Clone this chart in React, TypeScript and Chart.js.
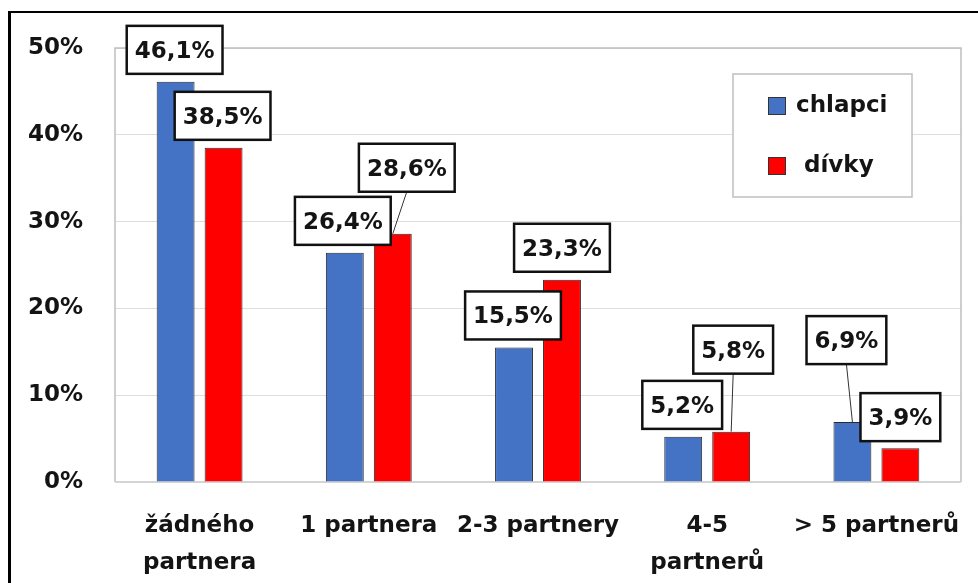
import React, { useEffect, useRef } from 'react';
import { Chart, registerables } from 'chart.js';

Chart.register(...registerables);

// ---- data ----
const categories: (string | string[])[] = [['žádného', 'partnera'], '1 partnera', '2-3 partnery', ['4-5', 'partnerů'], '> 5 partnerů'];
const seriesNames = ['chlapci', 'dívky'];
const chlapci = [46.1, 26.4, 15.5, 5.2, 6.9];
const divky = [38.5, 28.6, 23.3, 5.8, 3.9];
const yMin = 0;
const yMax = 50;
const yStep = 10;

// ---- styles ----
const COLORS = ['#4472C4', '#FF0000'];
const FONT_FAMILY = '"DejaVu Sans", "Noto Sans", sans-serif';
const FONT_SIZE = 23;
const TEXT_COLOR = '#141414';
// label box offsets (dx, dy of the box centre from the bar top) per series
const LABEL_OFFSETS: number[][][] = [
  [[-1, -32], [-2, -32], [-1, -32], [-1, -32], [-6, -82]],
  [[-1, -32], [14, -66], [0, -32], [2, -82], [0, -31]],
];
const LEADER = [
  [false, false, false, false, true],
  [false, true, false, true, false],
];

const fmt = (v: number) => v.toFixed(1).replace('.', ',') + '%';

const plotFrame = {
  id: 'plotFrame',
  beforeDatasetsDraw(chart: any) {
    const { ctx, chartArea: a } = chart;
    ctx.save();
    ctx.strokeStyle = '#bfbfbf';
    ctx.lineWidth = 1.5;
    ctx.beginPath();
    ctx.moveTo(a.left, a.bottom);
    ctx.lineTo(a.left, a.top);
    ctx.lineTo(a.right, a.top);
    ctx.lineTo(a.right, a.bottom);
    ctx.stroke();
    ctx.strokeStyle = '#d4d4d4';
    ctx.lineWidth = 2;
    ctx.beginPath();
    ctx.moveTo(a.left, a.bottom);
    ctx.lineTo(a.right, a.bottom);
    ctx.stroke();
    ctx.restore();
  },
};

const boxLabels = {
  id: 'boxLabels',
  afterDatasetsDraw(chart: any) {
    const { ctx } = chart;
    ctx.save();
    ctx.font = `bold ${FONT_SIZE}px ${FONT_FAMILY}`;
    const boxH = 48;
    chart.data.datasets.forEach((ds: any, di: number) => {
      const meta = chart.getDatasetMeta(di);
      meta.data.forEach((el: any, i: number) => {
        if (!LEADER[di][i]) return;
        const [dx, dy] = LABEL_OFFSETS[di][i];
        const cx = el.x + dx;
        const cy = el.y + dy;
        ctx.strokeStyle = '#333';
        ctx.lineWidth = 1;
        ctx.beginPath();
        ctx.moveTo(cx, cy + boxH / 2);
        ctx.lineTo(el.x, el.y);
        ctx.stroke();
      });
    });
    chart.data.datasets.forEach((ds: any, di: number) => {
      const meta = chart.getDatasetMeta(di);
      meta.data.forEach((el: any, i: number) => {
        const txt = fmt(ds.data[i]);
        const [dx, dy] = LABEL_OFFSETS[di][i];
        const cx = el.x + dx;
        const cy = el.y + dy;
        const w = ctx.measureText(txt).width + 16;
        ctx.fillStyle = '#fff';
        ctx.fillRect(cx - w / 2, cy - boxH / 2, w, boxH);
        ctx.strokeStyle = '#111';
        ctx.lineWidth = 2.5;
        ctx.strokeRect(cx - w / 2, cy - boxH / 2, w, boxH);
        ctx.fillStyle = TEXT_COLOR;
        ctx.textAlign = 'center';
        ctx.textBaseline = 'middle';
        ctx.fillText(txt, cx, cy + 2);
      });
    });
    ctx.restore();
  },
};

const boxLegend = {
  id: 'boxLegend',
  afterDraw(chart: any) {
    const { ctx, chartArea: a } = chart;
    ctx.save();
    const left = a.right - 228;
    const top = a.top + 26;
    const w = 179;
    const h = 123;
    ctx.fillStyle = '#fff';
    ctx.fillRect(left, top, w, h);
    ctx.strokeStyle = '#bfbfbf';
    ctx.lineWidth = 1.5;
    ctx.strokeRect(left, top, w, h);
    ctx.font = `bold ${FONT_SIZE}px ${FONT_FAMILY}`;
    ctx.textBaseline = 'middle';
    ctx.textAlign = 'left';
    chart.data.datasets.forEach((ds: any, di: number) => {
      const sy = top + 23 + di * 60;
      const sx = left + 35;
      ctx.fillStyle = ds.backgroundColor;
      ctx.fillRect(sx, sy, 18, 18);
      ctx.strokeStyle = '#333';
      ctx.lineWidth = 1;
      ctx.strokeRect(sx + 0.5, sy + 0.5, 17, 17);
      ctx.fillStyle = TEXT_COLOR;
      ctx.fillText((di === 1 ? ' ' : '') + ds.label, sx + 28, sy + 9);
    });
    ctx.restore();
  },
};

export default function App() {
  const ref = useRef<HTMLCanvasElement | null>(null);
  useEffect(() => {
    if (!ref.current) return;
    const chart = new Chart(ref.current, {
      type: 'bar',
      data: {
        labels: categories,
        datasets: [
          { label: seriesNames[0], data: chlapci, backgroundColor: COLORS[0], borderColor: '#2a2a2a', borderWidth: 1 },
          { label: seriesNames[1], data: divky, backgroundColor: COLORS[1], borderColor: '#2a2a2a', borderWidth: 1 },
        ],
      },
      options: {
        animation: false,
        responsive: true,
        maintainAspectRatio: false,
        layout: { padding: { top: 48, right: 17, left: 0, bottom: 0 } },
        datasets: { bar: { categoryPercentage: 0.567, barPercentage: 0.79 } },
        plugins: { legend: { display: false }, tooltip: { enabled: false } },
        scales: {
          x: {
            offset: true,
            grid: { display: false, drawTicks: false },
            border: { display: false },
            ticks: {
              color: TEXT_COLOR,
              font: { family: FONT_FAMILY, size: FONT_SIZE, weight: 'bold', lineHeight: 1.6 },
              padding: 26,
              maxRotation: 0,
              autoSkip: false,
            },
            afterFit(scale: any) {
              scale.height = 101;
              scale.paddingLeft = 0;
              scale.paddingRight = 0;
            },
          },
          y: {
            min: yMin,
            max: yMax,
            grid: { color: '#dedede', lineWidth: 1, drawTicks: false },
            border: { display: false },
            ticks: {
              stepSize: yStep,
              color: TEXT_COLOR,
              font: { family: FONT_FAMILY, size: FONT_SIZE, weight: 'bold' },
              padding: 32,
              callback: (v: any) => v + '%',
            },
            afterFit(scale: any) { scale.width = 115; },
          },
        },
      } as any,
      plugins: [plotFrame, boxLabels, boxLegend],
    });
    return () => chart.destroy();
  }, []);
  return (
    <div style={{ position: 'fixed', left: 0, top: 0, width: 978, height: 583, overflow: 'hidden', background: '#fff' }}>
      <div style={{ position: 'absolute', left: 0, top: 0, width: 978, height: 583 }}>
        <canvas ref={ref} />
      </div>
      <div style={{ position: 'absolute', left: 8, top: 11, width: 1200, height: 800, borderTop: '2px solid #000', borderLeft: '3px solid #000', pointerEvents: 'none' }} />
    </div>
  );
}
